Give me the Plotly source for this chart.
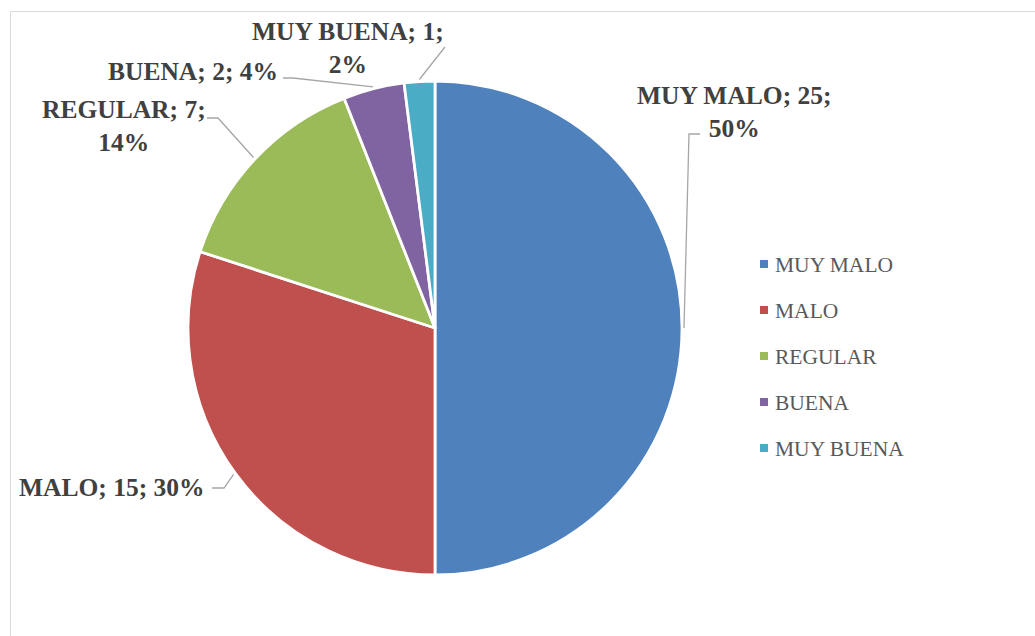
import math
import plotly.graph_objects as go

# Survey results
categories = ["MUY MALO", "MALO", "REGULAR", "BUENA", "MUY BUENA"]
counts = [25, 15, 7, 2, 1]
colors = ["#4F81BD", "#C0504D", "#9BBB59", "#8064A2", "#4BACC6"]

W, H = 1035, 636

# Pie placement (pixels)
CX, CY, R = 435, 328, 247

# Data-label placement (pixel centre of the text block) and leader-line
# elbow / end points, one per category
label_pos = [(734, 112), (112, 487), (124, 126), (193, 72), (348, 48)]
leader_elbow = [(689, 134), (224, 488), (218, 118), (293, 78), None]
leader_end = [(700, 134), (212, 488), (207, 118), (283, 78), (445, 47)]
label_breaks = [True, False, True, False, True]

# Legend placement (pixels)
LEG_X, LEG_Y0, LEG_DY = 764, 264, 46


def px(x):
    return x / W


def py(y):
    return 1 - y / H


fig = go.Figure(
    go.Pie(
        labels=categories,
        values=counts,
        sort=False,
        direction="clockwise",
        rotation=0,
        textinfo="none",
        hoverinfo="label+value+percent",
        marker=dict(colors=colors, line=dict(color="white", width=2.8)),
        domain=dict(x=[px(CX - R), px(CX + R)], y=[py(CY + R), py(CY - R)]),
        showlegend=False,
    )
)

total = sum(counts)
shapes = []
annotations = []
cum = 0
for i, (cat, v) in enumerate(zip(categories, counts)):
    mid = (cum + v / 2) / total * 2 * math.pi
    cum += v
    sx = CX + (R + 2) * math.sin(mid)
    sy = CY - (R + 2) * math.cos(mid)
    pts = [(sx, sy)]
    if leader_elbow[i] is not None:
        pts.append(leader_elbow[i])
    pts.append(leader_end[i])
    path = "M " + " L ".join(f"{px(x):.5f},{py(y):.5f}" for x, y in pts)
    shapes.append(dict(type="path", xref="paper", yref="paper", path=path,
                       line=dict(color="#A6A6A6", width=1.3)))

    pct = round(v / total * 100)
    sep = "<br>" if label_breaks[i] else " "
    text = f"{cat}; {v};{sep}{pct}%"
    lx, ly = label_pos[i]
    annotations.append(dict(
        x=px(lx), y=py(ly), xref="paper", yref="paper", text=f"<b>{text}</b>",
        showarrow=False, xanchor="center", yanchor="middle", align="center",
        font=dict(family="Liberation Serif", size=25.5, color="#404040"),
    ))

    # legend entry
    ly2 = LEG_Y0 + i * LEG_DY
    shapes.append(dict(type="rect", xref="paper", yref="paper",
                       x0=px(LEG_X - 4), x1=px(LEG_X + 4),
                       y0=py(ly2 + 4), y1=py(ly2 - 4),
                       fillcolor=colors[i], line=dict(width=0)))
    annotations.append(dict(
        x=px(LEG_X + 9), y=py(ly2 + 1), xref="paper", yref="paper", text=cat,
        showarrow=False, xanchor="left", yanchor="middle",
        font=dict(family="Liberation Serif", size=21.5, color="#595959"),
    ))

# chart-area frame
shapes.append(dict(type="rect", xref="paper", yref="paper",
                   x0=px(10.5), x1=px(W + 5), y0=py(H + 5), y1=py(11.5),
                   line=dict(color="#D9D9D9", width=1), fillcolor="rgba(0,0,0,0)"))

fig.update_layout(
    width=W, height=H,
    margin=dict(l=0, r=0, t=0, b=0),
    paper_bgcolor="white",
    plot_bgcolor="white",
    shapes=shapes,
    annotations=annotations,
)

fig.write_html("out.html")
